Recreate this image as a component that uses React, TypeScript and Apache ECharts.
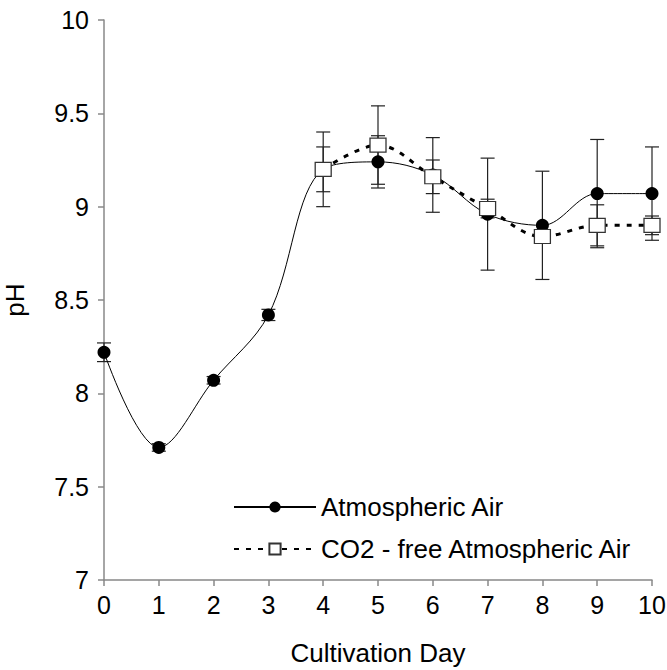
import React, { useEffect, useRef } from "react";
import * as echarts from "echarts";

const days = [0, 1, 2, 3, 4, 5, 6, 7, 8, 9, 10];
const atmPH = [8.22, 7.71, 8.07, 8.42, 9.2, 9.24, 9.17, 8.96, 8.9, 9.07, 9.07];
const atmErr = [0.05, 0.02, 0.02, 0.03, 0.2, 0.14, 0.2, 0.3, 0.29, 0.29, 0.25];
const co2Days = [4, 5, 6, 7, 8, 9, 10];
const co2PH = [9.2, 9.33, 9.16, 8.99, 8.84, 8.9, 8.9];
const co2Err = [0.12, 0.21, 0.09, 0.05, 0.03, 0.11, 0.05];
const yTicks = [7, 7.5, 8, 8.5, 9, 9.5, 10];

const FONT = "Liberation Sans, Arial, sans-serif";

export default function App() {
  const ref = useRef<HTMLDivElement>(null);
  useEffect(() => {
    if (!ref.current) return;
    document.body.style.margin = "0";
    document.body.style.overflow = "hidden";
    const chart = echarts.init(ref.current, null, { renderer: "svg" });
    const errData: number[][] = [];
    days.forEach((d, i) => errData.push([d, atmPH[i] - atmErr[i], atmPH[i] + atmErr[i]]));
    co2Days.forEach((d, i) => errData.push([d, co2PH[i] - co2Err[i], co2PH[i] + co2Err[i]]));
    const option: any = {
      animation: false,
      backgroundColor: "#fff",
      grid: { left: 104, right: 15, top: 20, bottom: 90, containLabel: false, outerBoundsMode: "none" },
      legend: {
        data: ["Atmospheric Air", "CO2 - free Atmospheric Air"],
        orient: "vertical",
        left: 228,
        top: 489,
        itemWidth: 82,
        itemHeight: 14,
        itemGap: 16,
        textStyle: { fontFamily: FONT, fontSize: 26, color: "#000" },
      },
      xAxis: {
        type: "value",
        min: 0,
        max: 10,
        interval: 1,
        name: "Cultivation Day",
        nameLocation: "middle",
        nameGap: 60,
        nameTextStyle: { fontFamily: FONT, fontSize: 26, color: "#000" },
        axisLine: { lineStyle: { color: "#888", width: 1.5 } },
        axisTick: { show: true, length: 6, lineStyle: { color: "#888", width: 1.5 } },
        axisLabel: { fontFamily: FONT, fontSize: 25, color: "#000", margin: 12 },
        splitLine: { show: false },
      },
      yAxis: {
        type: "value",
        min: yTicks[0],
        max: yTicks[yTicks.length - 1],
        interval: 0.5,
        name: "pH",
        nameLocation: "middle",
        nameGap: 76,
        nameRotate: 90,
        nameTextStyle: { fontFamily: FONT, fontSize: 26, color: "#000" },
        axisLine: { show: true, lineStyle: { color: "#888", width: 1.5 } },
        axisTick: { show: true, length: 6, lineStyle: { color: "#888", width: 1.5 } },
        axisLabel: { fontFamily: FONT, fontSize: 25, color: "#000", margin: 15 },
        splitLine: { show: false },
      },
      series: [
        {
          type: "custom",
          name: "err",
          z: 1,
          data: errData,
          renderItem: (params: any, api: any) => {
            const x = api.value(0);
            const lo = api.coord([x, api.value(1)]);
            const hi = api.coord([x, api.value(2)]);
            const hw = 7;
            const style = { stroke: "#222", lineWidth: 1.2 };
            return {
              type: "group",
              children: [
                { type: "line", shape: { x1: lo[0], y1: lo[1], x2: hi[0], y2: hi[1] }, style },
                { type: "line", shape: { x1: lo[0] - hw, y1: lo[1], x2: lo[0] + hw, y2: lo[1] }, style },
                { type: "line", shape: { x1: hi[0] - hw, y1: hi[1], x2: hi[0] + hw, y2: hi[1] }, style },
              ],
            };
          },
        },
        {
          type: "line",
          name: "Atmospheric Air",
          z: 3,
          data: days.map((d, i) => [d, atmPH[i]]),
          smooth: 0.35,
          symbol: "circle",
          symbolSize: 13,
          itemStyle: { color: "#000", borderColor: "#000", borderWidth: 0 },
          lineStyle: { color: "#000", width: 1 },
        },
        {
          type: "line",
          name: "CO2 - free Atmospheric Air",
          z: 4,
          data: co2Days.map((d, i) => [d, co2PH[i]]),
          smooth: 0.35,
          symbol: "rect",
          symbolSize: [16, 14],
          itemStyle: { color: "#fff", borderColor: "#333", borderWidth: 1.2 },
          lineStyle: { color: "#000", width: 3, type: [5, 7] },
        },
      ],
    };
    chart.setOption(option);
    return () => chart.dispose();
  }, []);
  return <div ref={ref} style={{ width: 667, height: 670 }} />;
}
